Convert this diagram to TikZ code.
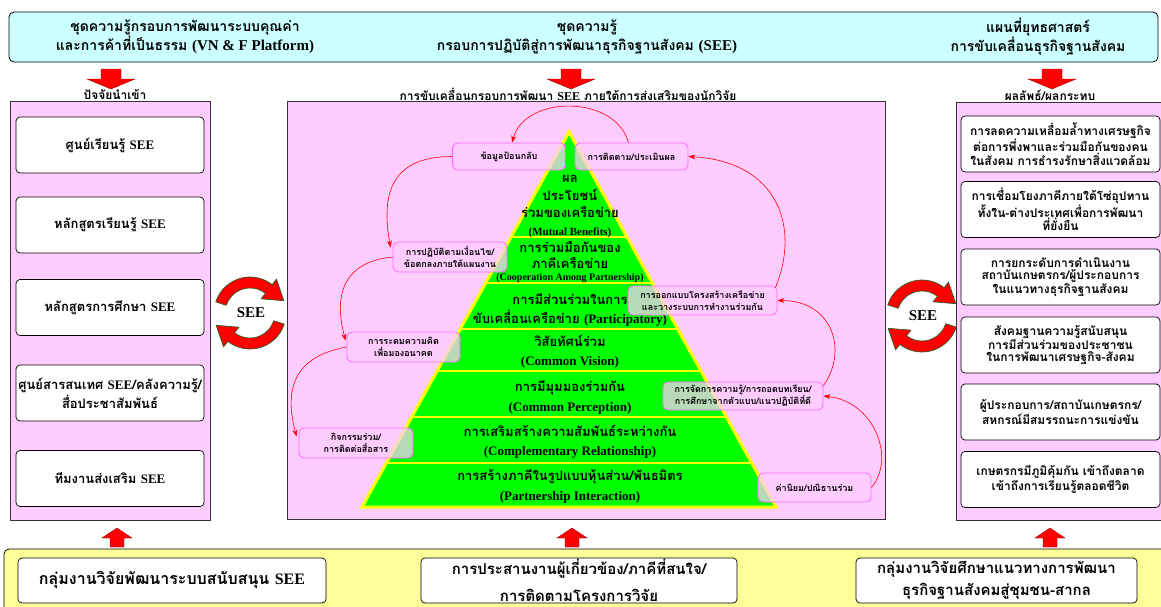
\documentclass[tikz,border=0pt]{standalone}
\usepackage{fontspec}
\setmainfont{Liberation Serif}
\newfontfamily\thaifont[Script=Thai]{Loma}
\newfontfamily\latfont{Liberation Serif}
\usetikzlibrary{arrows.meta,calc}
\definecolor{cyanbg}{HTML}{CCFFFF}
\definecolor{pinkbg}{HTML}{FFCCFF}
\definecolor{pgreen}{HTML}{00FF00}
\definecolor{pyellow}{HTML}{FFFF00}
\definecolor{cmag}{HTML}{FF66FF}
\definecolor{ybg}{HTML}{FFFF99}
\definecolor{seeedge}{HTML}{2E5E2E}
\newcommand\lat[1]{{\latfont #1}}
\tikzset{
  seecirc/.pic={
    \begin{scope}[yscale=-1]
      \foreach \r in {0,180}{
        \filldraw[fill=red, draw=seeedge, line width=0.7pt, rotate=\r]
          (162:36) arc[start angle=162, end angle=52, radius=36]
          -- (52:43) -- (20:36) -- (52:18) -- (52:25)
          arc[start angle=52, end angle=162, radius=25] -- cycle;
      }
    \end{scope}
  },
  dnarrow/.pic={
    \filldraw[fill=red, draw=red!60!black, line width=0.4pt]
      (-10,0) -- (10,0) -- (10,10) -- (24,10) -- (0,20) -- (-24,10) -- (-10,10) -- cycle;
  },
  uparrow/.pic={
    \filldraw[fill=red, draw=red!60!black, line width=0.4pt]
      (-7,19) -- (7,19) -- (7,10) -- (15,10) -- (0,0) -- (-15,10) -- (-7,10) -- cycle;
  }
}
\begin{document}
\begin{tikzpicture}[x=1pt,y=-1pt,
  tf/.style 2 args={font=\thaifont\bfseries\fontsize{#1}{#2}\selectfont},
  panel/.style={draw=black!80, line width=0.8pt, fill=pinkbg},
  wbox/.style={draw=black, line width=0.7pt, fill=white, rounded corners=4pt, inner sep=0pt, align=center},
  callout/.style={draw=cmag, line width=0.8pt, fill=pinkbg, fill opacity=0.72, text opacity=1, rounded corners=5pt, inner sep=0pt, align=center, tf={9}{12}},
  rarr/.style={draw=red, line width=0.6pt, -{Stealth[length=7pt,width=5pt]}},
  yline/.style={draw=pyellow, line width=2.5pt},
  pth/.style={tf={13}{16}, anchor=base, inner sep=0pt},
  ptl/.style={font=\latfont\bfseries\fontsize{#1}{#1}\selectfont, anchor=base, inner sep=0pt},
]
\useasboundingbox (0,0) rectangle (1161,606);
\fill[white] (0,0) rectangle (1161,606);

% top banner
\draw[fill=cyanbg, draw=black, line width=0.8pt, rounded corners=5pt] (9,12) rectangle (1158,62);
\node[tf={14}{19}, align=center] (t1) at (185,37) {ชุดความรู้กรอบการพัฒนาระบบคุณค่า\\และการค้าที่เป็นธรรม {\fontsize{15}{19}\selectfont\lat{(VN \& F Platform)}}};
\node[tf={14}{19}, align=center] (t2) at (587,37) {ชุดความรู้\\กรอบการปฏิบัติสู่การพัฒนาธุรกิจฐานสังคม {\fontsize{15}{19}\selectfont\lat{(SEE)}}};
\node[tf={14}{19}, align=center] (t3) at (1038,37) {แผนที่ยุทธศาสตร์\\การขับเคลื่อนธุรกิจฐานสังคม};

% down arrows
\pic at (111,69) {dnarrow};
\pic at (571,69) {dnarrow};
\pic at (1052,69) {dnarrow};

% labels
\node[tf={12}{14}, anchor=base] (lin) at (115,99) {ปัจจัยนำเข้า};
\node[tf={12}{14}, anchor=base] (lmid) at (568,100) {การขับเคลื่อนกรอบการพัฒนา \lat{SEE} ภายใต้การส่งเสริมของนักวิจัย};
\node[tf={12}{14}, anchor=base] (lout) at (1050,100) {ผลลัพธ์/ผลกระทบ};

% panels
\draw[panel] (10,101) rectangle (210,520);
\draw[panel] (287,101) rectangle (885,519);
\draw[panel] (956,102) rectangle (1168,520);

% left boxes
\begin{scope}[every node/.style={wbox, tf={13}{18.7}, minimum width=188pt, minimum height=56pt}]
\node (l1) at (110,145) {ศูนย์เรียนรู้ \lat{SEE}};
\node (l2) at (110,225) {หลักสูตรเรียนรู้ \lat{SEE}};
\node (l3) at (110,307.5) {หลักสูตรการศึกษา \lat{SEE}};
\node (l4) at (110,393) {ศูนย์สารสนเทศ \lat{SEE}/คลังความรู้/\\สื่อประชาสัมพันธ์};
\node (l5) at (110,478.5) {ทีมงานส่งเสริม \lat{SEE}};
\end{scope}

% right boxes
\begin{scope}[every node/.style={wbox, tf={12}{12.3}, minimum width=199pt, minimum height=56pt}]
\node (r1) at (1060.5,144) {การลดความเหลื่อมล้ำทางเศรษฐกิจ\\ต่อการพึ่งพาและร่วมมือกันของคน\\ในสังคม การธำรงรักษาสิ่งแวดล้อม};
\node (r2) at (1060.5,209.5) {การเชื่อมโยงภาคีภายใต้โซ่อุปทาน\\ทั้งใน-ต่างประเทศเพื่อการพัฒนา\\ที่ยั่งยืน};
\node (r3) at (1060.5,277) {การยกระดับการดำเนินงาน\\สถาบันเกษตรกร/ผู้ประกอบการ\\ในแนวทางธุรกิจฐานสังคม};
\node (r4) at (1060.5,345) {สังคมฐานความรู้สนับสนุน\\การมีส่วนร่วมของประชาชน\\ในการพัฒนาเศรษฐกิจ-สังคม};
\node (r5) at (1060.5,412) {ผู้ประกอบการ/สถาบันเกษตรกร/\\สหกรณ์มีสมรรถนะการแข่งขัน};
\node (r6) at (1060.5,479.5) {เกษตรกรมีภูมิคุ้มกัน เข้าถึงตลาด\\เข้าถึงการเรียนรู้ตลอดชีวิต};
\end{scope}

% SEE cycles
\pic at (250,313) {seecirc};
\node[font=\latfont\bfseries\fontsize{15}{18}\selectfont] (seeL) at (251,313) {SEE};
\pic at (922,316) {seecirc};
\node[font=\latfont\bfseries\fontsize{15}{18}\selectfont] (seeR) at (923,316) {SEE};

% pyramid
\coordinate (ap) at (569,132);
\coordinate (bl) at (362,507);
\coordinate (br) at (776,507);
\filldraw[fill=pgreen, draw=pyellow, line width=3pt] (ap) -- (br) -- (bl) -- cycle;
\foreach \t in {0.28,0.4027,0.5253,0.6373,0.76,0.8827}
  \draw[yline] ($(ap)!\t!(bl)$) -- ($(ap)!\t!(br)$);

\node[pth] (p1a) at (570,182.5) {ผล};
\node[pth] (p1b) at (570,200.5) {ประโยชน์};
\node[pth] (p1c) at (570,217.5) {ร่วมของเครือข่าย};
\node[ptl=11] (p1d) at (570,235) {(Mutual Benefits)};
\node[pth] (p2a) at (570,252.5) {การร่วมมือกันของ};
\node[pth] (p2b) at (570,268.5) {ภาคีเครือข่าย};
\node[ptl=10] (p2c) at (570,280.5) {(Cooperation Among Partnership)};
\node[pth] (p3a) at (570,304.5) {การมีส่วนร่วมในการ};
\node[pth] (p3b) at (570,323.5) {ขับเคลื่อนเครือข่าย \lat{(Participatory)}};
\node[pth] (p4a) at (570,346.5) {วิสัยทัศน์ร่วม};
\node[ptl=13] (p4b) at (570,365.5) {(Common Vision)};
\node[pth] (p5a) at (570,391.5) {การมีมุมมองร่วมกัน};
\node[ptl=13] (p5b) at (570,411.5) {(Common Perception)};
\node[pth] (p6a) at (570,436.5) {การเสริมสร้างความสัมพันธ์ระหว่างกัน};
\node[ptl=13] (p6b) at (570,455.5) {(Complementary Relationship)};
\node[pth] (p7a) at (570,480.5) {การสร้างภาคีในรูปแบบหุ้นส่วน/พันธมิตร};
\node[ptl=13] (p7b) at (570,500.5) {(Partnership Interaction)};

% callouts
\node[callout, minimum width=113pt, minimum height=27pt] (c1) at (509,156.5) {ข้อมูลป้อนกลับ};
\node[callout, minimum width=113pt, minimum height=27pt] (c2) at (631.5,156.5) {การติดตาม/ประเมินผล};
\node[callout, minimum width=114pt, minimum height=30pt] (c3) at (450,257) {การปฏิบัติตามเงื่อนไข/\\ข้อตกลงภายใต้แผนงาน};
\node[callout, minimum width=149pt, minimum height=29pt] (c4) at (702.5,300.5) {การออกแบบโครงสร้างเครือข่าย\\และวางระบบการทำงานร่วมกัน};
\node[callout, minimum width=113pt, minimum height=30pt] (c5) at (403.5,347) {การระดมความคิด\\เพื่อมองอนาคต};
\node[callout, minimum width=160pt, minimum height=28pt] (c6) at (743,396) {การจัดการความรู้/การถอดบทเรียน/\\การศึกษาจากตัวแบบ/แนวปฏิบัติที่ดี};
\node[callout, minimum width=114pt, minimum height=30pt] (c7) at (356,443) {กิจกรรมร่วม/\\การติดต่อสื่อสาร};
\node[callout, minimum width=113pt, minimum height=29pt] (c8) at (814.5,487.5) {ค่านิยม/ปณิธานร่วม};

% cycle connectors
\draw[rarr] ($(c2.north)+(-3,0)$) .. controls +(-13,-48) and +(13,-48) .. ($(c1.north)+(3,0)$);
\draw[rarr] (c1.west) .. controls +(-60,0) and +(-10,-55) .. ($(c3.north west)+(-2,6)$);
\draw[rarr] (c3.west) .. controls +(-50,5) and +(-12,-45) .. ($(c5.north west)+(-1,9)$);
\draw[rarr] (c5.west) .. controls +(-55,10) and +(-12,-45) .. ($(c7.north west)+(-2,9)$);
\draw[rarr] (c8.east) .. controls +(25,-30) and +(50,5) .. (c6.east);
\draw[rarr] ($(c6.north east)+(0,4)$) .. controls +(25,-35) and +(55,0) .. (c4.east);
\draw[rarr] ($(c4.north east)+(-2,2)$) .. controls +(25,-60) and +(90,5) .. (c2.east);

% bottom
\pic at (117,528) {uparrow};
\pic at (572,528) {uparrow};
\pic at (1050,528) {uparrow};
\draw[fill=ybg, draw=black, line width=0.8pt, rounded corners=5pt] (4,612) -- (4,549) -- (1170,549) -- (1170,612);
\begin{scope}[every node/.style={wbox, minimum height=45pt}]
\node[tf={16}{22}, minimum width=308pt] (b1) at (172,580.5) {กลุ่มงานวิจัยพัฒนาระบบสนับสนุน \lat{SEE}};
\node[tf={15}{27}, minimum width=316pt] (b2) at (579,580.5) {การประสานงานผู้เกี่ยวข้อง/ภาคีที่สนใจ/\\การติดตามโครงการวิจัย};
\node[tf={15}{22}, minimum width=281pt] (b3) at (996.5,580.5) {กลุ่มงานวิจัยศึกษาแนวทางการพัฒนา\\ธุรกิจฐานสังคมสู่ชุมชน-สากล};
\end{scope}
\end{tikzpicture}
\end{document}
